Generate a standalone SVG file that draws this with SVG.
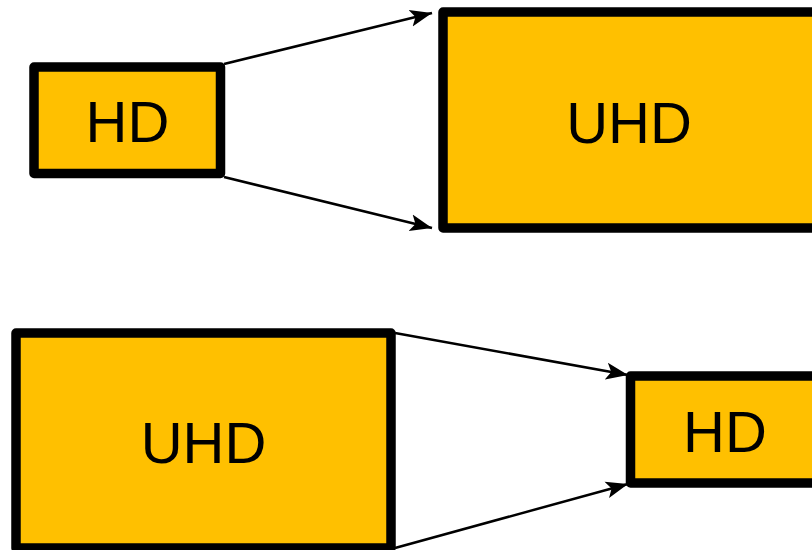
<svg xmlns="http://www.w3.org/2000/svg" width="812" height="550" viewBox="0 0 812 550">
<style>
.box{fill:#FFC000;stroke:#000;stroke-width:9.5;stroke-linejoin:round}
.lbl{font-family:"Liberation Sans",Arial,sans-serif;font-size:58px;fill:#000;text-anchor:middle}
.conn{stroke:#000;stroke-width:2.5;fill:none}
</style>
<defs>
<marker id="ah" markerUnits="userSpaceOnUse" markerWidth="24" markerHeight="18" refX="22" refY="9" orient="auto">
<path d="M0,0.5 L22,9 L0,17.5 L5,9 Z" fill="#000"/>
</marker>
</defs>
<rect width="812" height="550" fill="#fff"/>
<g id="connectors">
<line class="conn" x1="224" y1="64" x2="432" y2="13" marker-end="url(#ah)"/>
<line class="conn" x1="224" y1="177" x2="432" y2="228" marker-end="url(#ah)"/>
<line class="conn" x1="395" y1="333" x2="628" y2="375" marker-end="url(#ah)"/>
<line class="conn" x1="395" y1="548" x2="628" y2="484" marker-end="url(#ah)"/>
</g>
<g id="hd-top">
<rect class="box" x="34" y="67" width="186.5" height="106.5"/>
<text class="lbl" x="127.5" y="142">HD</text>
</g>
<g id="uhd-top">
<rect class="box" x="443" y="12" width="380" height="216"/>
<text class="lbl" x="629" y="143">UHD</text>
</g>
<g id="uhd-bottom">
<rect class="box" x="16" y="333" width="375" height="215"/>
<text class="lbl" x="203.5" y="463">UHD</text>
</g>
<g id="hd-bottom">
<rect class="box" x="630.5" y="376" width="200" height="107"/>
<text class="lbl" x="725" y="452">HD</text>
</g>
</svg>
